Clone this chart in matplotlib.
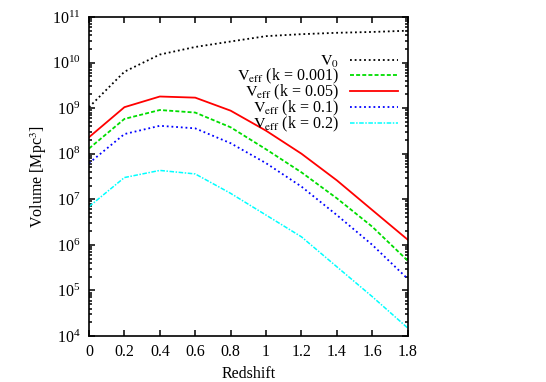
import numpy as np
import matplotlib
matplotlib.use("Agg")
from matplotlib import pyplot as plt
from matplotlib.ticker import FixedLocator, FuncFormatter, LogLocator

plt.rcParams["font.family"] = "serif"
plt.rcParams["font.serif"] = ["Liberation Serif", "DejaVu Serif"]
plt.rcParams["mathtext.fontset"] = "stix"

redshift = [0.0, 0.2, 0.4, 0.6, 0.8, 1.0, 1.2, 1.4, 1.6, 1.8]
v0 = [1.05e9, 6.3e9, 1.5e10, 2.2e10, 2.9e10, 3.8e10, 4.2e10, 4.5e10, 4.7e10, 5.0e10]
veff_k0001 = [1.3e8, 5.8e8, 9.1e8, 8.0e8, 3.8e8, 1.25e8, 3.9e7, 1.05e7, 2.5e6, 4.5e5]
veff_k005 = [2.3e8, 1.05e9, 1.8e9, 1.7e9, 8.8e8, 3.2e8, 1.0e8, 2.6e7, 5.8e6, 1.3e6]
veff_k01 = [6.2e7, 2.7e8, 4.1e8, 3.6e8, 1.7e8, 6.2e7, 1.9e7, 4.5e6, 1.0e6, 1.8e5]
veff_k02 = [6.9e6, 3.0e7, 4.3e7, 3.6e7, 1.35e7, 4.5e6, 1.5e6, 3.3e5, 7.3e4, 1.5e4]

labels = [
    r"$\mathrm{V_0}$",
    r"$\mathrm{V_{eff}}$ (k = 0.001)",
    r"$\mathrm{V_{eff}}$ (k = 0.05)",
    r"$\mathrm{V_{eff}}$ (k = 0.1)",
    r"$\mathrm{V_{eff}}$ (k = 0.2)",
]
x_ticks = [0.0, 0.2, 0.4, 0.6, 0.8, 1.0, 1.2, 1.4, 1.6, 1.8]

fig = plt.figure(figsize=(5.46, 3.82), dpi=100)
ax = fig.add_axes([0.163, 0.1204, 0.5837, 0.8351])

styles = [
    dict(color="black", ls=(0, (1, 1.6)), lw=1.3),
    dict(color="#00dd00", ls=(0, (2.2, 1.2)), lw=1.3),
    dict(color="red", ls="solid", lw=1.3),
    dict(color="blue", ls=(0, (1, 1.6)), lw=1.3),
    dict(color="cyan", ls=(0, (3, 1, 1, 1)), lw=1.1),
]
for series, label, st in zip([v0, veff_k0001, veff_k005, veff_k01, veff_k02], labels, styles):
    ax.plot(redshift, series, label=label, **st)

ax.set_yscale("log")
ax.set_xlim(0, 1.8)
ax.set_ylim(1e4, 1e11)
ax.xaxis.set_major_locator(FixedLocator(x_ticks))
ax.xaxis.set_major_formatter(FuncFormatter(lambda v, p: "%g" % round(v, 2)))
ax.yaxis.set_major_locator(LogLocator(base=10, numticks=20))
ax.yaxis.set_minor_locator(LogLocator(base=10, subs=np.arange(2, 10), numticks=20))

ax.tick_params(which="both", direction="in", top=True, right=True, width=1.1, labelsize=11.5, pad=6)
ax.tick_params(which="major", length=4.5)
ax.tick_params(which="minor", length=2)
for sp in ax.spines.values():
    sp.set_linewidth(1.2)

ax.set_xlabel("Redshift", fontsize=11.5, labelpad=4)
ax.set_ylabel(r"Volume [Mpc$^3$]", fontsize=11.5, labelpad=2)

ax.legend(
    loc="upper right",
    bbox_to_anchor=(0.97, 0.884),
    frameon=False,
    markerfirst=False,
    fontsize=11.5,
    handlelength=3.0,
    handletextpad=0.7,
    labelspacing=-0.2,
    borderpad=0,
    borderaxespad=0,
)

fig.savefig("out.png", dpi=100)
